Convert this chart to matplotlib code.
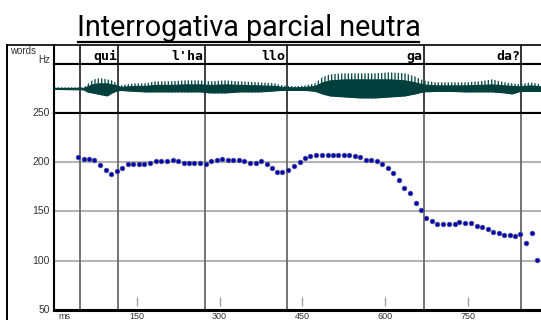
import matplotlib
matplotlib.use('Agg')
import matplotlib.pyplot as plt
from matplotlib.lines import Line2D

# pitch track (ms, Hz)
f0_ms = [44, 55, 64, 73, 84, 94, 104, 114, 124, 134, 144, 154, 164, 174, 184, 194,
         204, 215, 225, 235, 245, 254, 265, 275, 284, 295, 305, 315, 325, 335, 345,
         355, 366, 375, 386, 395, 405, 414, 424, 435, 445, 455, 464, 475, 485, 496,
         505, 515, 525, 535, 545, 555, 565, 575, 585, 595, 605, 615, 625, 635, 645,
         656, 666, 674, 685, 695, 705, 716, 726, 735, 745, 755, 766, 776, 786, 796,
         806, 816, 826, 836, 845, 856, 866, 876]
f0_hz = [204.7, 203.3, 203.3, 201.6, 196.6, 192.2, 188.1, 191.2, 194.2, 197.6, 198.3,
         198.3, 198.3, 199.3, 200.6, 200.6, 200.6, 201.6, 200.6, 199.3, 199.3, 199.3,
         199.3, 198.3, 200.6, 202.3, 203.3, 202.3, 202.3, 201.6, 200.6, 199.3, 199.3,
         200.6, 198.3, 194.2, 190.2, 189.5, 191.5, 195.5, 200.3, 203.6, 205.7, 206.7,
         206.7, 206.7, 206.7, 206.7, 206.7, 206.7, 205.7, 204.7, 202.3, 201.6, 200.6,
         197.6, 193.5, 188.4, 181.4, 174.0, 168.2, 158.1, 151.4, 142.9, 140.2, 136.8,
         136.8, 136.8, 136.8, 139.2, 138.2, 138.2, 134.8, 133.7, 131.7, 129.1, 128.1,
         126.0, 126.0, 125.0, 127.0, 117.9, 128.1, 100.7]

# word segmentation
bounds = [48, 116.5, 273.5, 421.5, 670, 847]
words = ['qui', "l'ha", 'llo', 'ga', 'da?']

# waveform envelope (ms, upper / lower amplitude)
env_t = [0, 54, 60, 69, 78, 87, 96, 105, 114, 121, 132, 147, 165, 183, 210, 237, 265,
         283, 310, 337, 373, 400, 413, 437, 455, 473, 486, 500, 527, 555, 582, 609,
         636, 654, 669, 691, 718, 745, 772, 794, 817, 830, 845, 863, 883]
env_top = [1, 1, 4, 8, 10, 10, 9, 8, 5, 3, 4, 5, 5, 7, 7, 8, 8, 7, 8, 7, 6, 5, 3, 2, 3,
           5, 11, 14, 15, 15, 15, 16, 15, 12, 8, 6, 6, 6, 7, 9, 6, 5, 4, 6, 4]
env_bot = [1, 1.5, 4, 5, 6, 7, 8, 5, 3, 2, 3, 3, 4, 4, 4, 4, 4, 5, 5, 4, 4, 3, 2, 2, 2,
           3, 6, 8, 9, 10, 10, 9, 8, 6, 4, 3, 3, 4, 4, 4, 5, 6, 3, 3, 3]
core_top = [0.5, 0.5, 2, 4, 5, 5, 5, 4, 3, 1.5, 2, 2.5, 2.5, 3.5, 3.5, 4, 4, 3.5, 4, 3.5,
            3, 2.5, 1.5, 1, 1.5, 2.5, 6, 8, 9, 9, 9, 9, 8, 6, 4, 3, 3, 3, 3.5, 4, 3, 2.5,
            2, 3, 2]
core_bot = [0.5, 1, 3, 4, 5, 6, 7, 4, 2, 1.5, 2, 2.5, 3, 3, 3, 3, 3, 4, 4, 3, 3, 2, 1.5,
            1.5, 1.5, 2.5, 5, 7, 8, 9, 9, 8, 7, 5, 3, 2.5, 2.5, 3, 3, 3, 4, 5, 2.5, 2.5,
            2.5]

hz_ticks = [250, 200, 150, 100, 50]
ms_ticks = [150, 300, 450, 600, 750]

W, H = 541, 320
plt.rcParams['hatch.linewidth'] = 1.0
fig = plt.figure(figsize=(W / 100, H / 100), dpi=100)


def box(top, bottom, left=54, right=W):
    return [left / W, 1 - bottom / H, (right - left) / W, (bottom - top) / H]


xmax = (W - 54) / 0.5517
ax_w = fig.add_axes(box(44.5, 64.3))
ax_s = fig.add_axes(box(64.3, 112.5))
ax_p = fig.add_axes(box(112.5, 310))

for ax in (ax_w, ax_s, ax_p):
    ax.set_xlim(0, xmax)
    ax.set_xticks([])
    ax.set_yticks([])
    ax.spines['right'].set_visible(False)
    for s in ('left', 'top', 'bottom'):
        ax.spines[s].set_linewidth(1.5)
        ax.spines[s].set_color('black')
ax_p.spines['bottom'].set_linewidth(2.2)
ax_w.spines['top'].set_linewidth(1.2)

# words row
ax_w.set_ylim(0, 1)
for b in bounds:
    ax_w.axvline(b, color='#222222', lw=1.3)
for b, w in zip(bounds[1:], words):
    ax_w.text(b - 2.5, 0.40, w, ha='right', va='center', fontsize=9.5,
              family='DejaVu Sans Mono', fontweight='bold', color='black')

# waveform row
ax_s.set_ylim(-24, 24)
for b in bounds:
    ax_s.axvline(b, color='#333333', lw=1.3, zorder=1)
ax_s.fill_between(env_t, env_top, [-v for v in env_bot], facecolor='none',
                  edgecolor='#104f4b', hatch='|||||', lw=0, zorder=2)
ax_s.fill_between(env_t, core_top, [-v for v in core_bot], color='#003f3c', lw=0.8,
                  edgecolor='#003f3c', zorder=3)

# pitch panel
ax_p.set_ylim(50, 250)
for h in [200, 150, 100]:
    ax_p.axhline(h, color='#b4b4b4', lw=1.5, zorder=1)
for b in bounds:
    ax_p.axvline(b, color='#6a6a6a', lw=1.3, zorder=2)
ax_p.vlines(ms_ticks, 54, 63, color='#a0a0a0', lw=1, zorder=2)
ax_p.plot(f0_ms, f0_hz, 'o', ms=3.4, mfc='#0000b8', mec='#5a5a80', mew=0.5, zorder=4)

# left label panel
fig.add_artist(Line2D([7.3 / W, 7.3 / W], [0, 1 - 44.5 / H], color='black', lw=1.4))
fig.add_artist(Line2D([7.3 / W, 54 / W], [1 - 44.5 / H, 1 - 44.5 / H], color='black', lw=1.2))
small = dict(fontsize=7.5, family='Liberation Sans', color='#333333')
fig.text(10 / W, 1 - 51 / H, 'words', ha='left', va='center', **dict(small, fontsize=7))
fig.text(50 / W, 1 - 60 / H, 'Hz', ha='right', va='center', **dict(small, fontsize=7))
for h in hz_ticks:
    y = 1 - (310 - (h - 50) * 0.9875) / H
    fig.text(50 / W, y, str(h), ha='right', va='center', **small)

xl = dict(small, fontsize=6.5)
fig.text(58 / W, 1 - 312 / H, 'ms', ha='left', va='top', **xl)
for m in ms_ticks:
    fig.text((54 + m * 0.5517) / W, 1 - 312 / H, str(m), ha='center', va='top', **xl)

# title, underlined
title = fig.text(248.5 / W, 1 - 36 / H, 'Interrogativa parcial neutra', ha='center',
                 va='baseline', fontsize=22, family='Roboto', color='black')
fig.canvas.draw()
bb = title.get_window_extent()
title.set_fontsize(22 * 345 / bb.width)
fig.add_artist(Line2D([78 / W, 419 / W], [1 - 42 / H, 1 - 42 / H], color='black', lw=1.6))

fig.savefig('out.png', dpi=100)
